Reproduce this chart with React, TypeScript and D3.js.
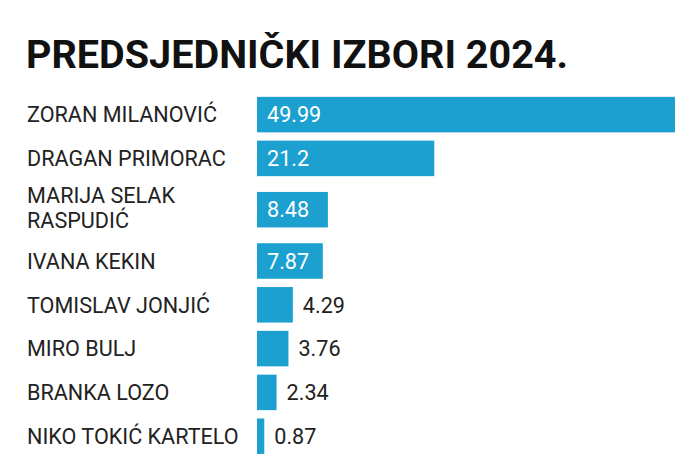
import React from "react";
import * as d3 from "d3";

const TITLE = "PREDSJEDNIČKI IZBORI 2024.";
const candidates: string[][] = [
  ["ZORAN MILANOVIĆ"],
  ["DRAGAN PRIMORAC"],
  ["MARIJA SELAK", "RASPUDIĆ"],
  ["IVANA KEKIN"],
  ["TOMISLAV JONJIĆ"],
  ["MIRO BULJ"],
  ["BRANKA LOZO"],
  ["NIKO TOKIĆ KARTELO"],
];
const values: number[] = [49.99, 21.2, 8.48, 7.87, 4.29, 3.76, 2.34, 0.87];

const W = 700;
const H = 471;
const BAR_COLOR = "#1ba0cf";
const FONT = "Roboto, 'Noto Sans', sans-serif";
const FS = 21.6;

export default function App() {
  const x = d3.scaleLinear().domain([0, d3.max(values) as number]).range([257, 675]);
  const pitch = 43.8;
  const extra = 15;
  const barH = 35.5;
  const lineGap = 25;
  let cursor = 92.7;
  const rows = candidates.map((lines, i) => {
    const h = pitch + (lines.length - 1) * extra;
    const y0 = cursor;
    cursor += h;
    return { lines, value: values[i], y0, h, cy: y0 + h / 2 };
  });

  return (
    <svg
      width={W}
      height={H}
      style={{ position: "absolute", left: 0, top: 0, background: "#fff" }}
      fontFamily={FONT}
    >
      <rect x={0} y={0} width={W} height={H} fill="#fff" />
      <text
        x={26}
        y={67.7}
        fontSize={39}
        fontWeight={700}
        fill="#111"
        textLength={542}
        lengthAdjust="spacingAndGlyphs"
      >
        {TITLE}
      </text>
      {rows.map((r, i) => {
        const inside = r.value >= 5;
        const bw = x(r.value) - x(0);
        const n = r.lines.length;
        return (
          <g key={i}>
            <text fontSize={FS} fill="#222" x={27}>
              {r.lines.map((ln, j) => (
                <tspan key={j} x={27} y={r.cy + 7.7 + (j - (n - 1) / 2) * lineGap - (n > 1 ? 1.5 : 0)}>
                  {ln}
                </tspan>
              ))}
            </text>
            <rect x={x(0)} y={r.cy - barH / 2} width={bw} height={barH} fill={BAR_COLOR} />
            <text
              x={inside ? x(0) + 10 : x(r.value) + 10}
              y={r.cy + 7.7}
              fontSize={FS}
              fill={inside ? "#fff" : "#222"}
            >
              {r.value}
            </text>
          </g>
        );
      })}
    </svg>
  );
}
